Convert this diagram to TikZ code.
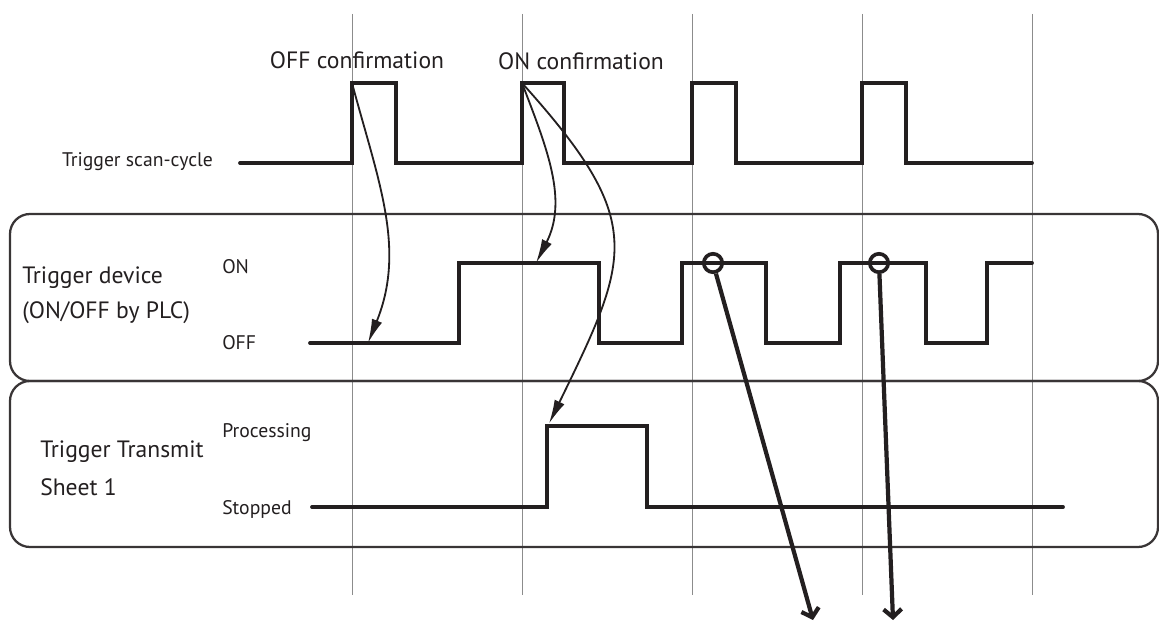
\documentclass[tikz,border=0pt]{standalone}
\usepackage{fontspec}
\setmainfont{PT Sans}
\usetikzlibrary{arrows.meta}
\definecolor{ink}{HTML}{231F20}
\definecolor{gridgray}{HTML}{8C8C8C}

\begin{document}
\begin{tikzpicture}[
	wave/.style={draw=ink,line width=2.7pt,line cap=round},
	frame/.style={draw=ink!90,line width=1.6pt,rounded corners=0.5cm},
	tick/.style={draw=gridgray,line width=0.7pt},
	confirm/.style={draw=ink,line width=1.3pt,-{Latex[length=0.6cm,width=0.27cm]}},
	pointer/.style={draw=ink,line width=3pt,-{Straight Barb[length=0.2cm,width=0.45cm]}},
	ring/.style={shape=circle,draw=ink,line width=2.6pt,minimum size=0.46cm,inner sep=0pt},
	big/.style={font=\fontsize{16.8}{19}\selectfont,text=ink,inner sep=0pt},
	small/.style={font=\fontsize{14}{16}\selectfont,text=ink,inner sep=0pt}
]
				\useasboundingbox (0,0) rectangle (28.975,15.55);
				
				% scan-cycle ticks
				\draw[tick] (8.8,15.2) -- (8.8,0.675);
				\draw[tick] (13.05,15.2) -- (13.05,0.675);
				\draw[tick] (17.3,15.2) -- (17.3,0.675);
				\draw[tick] (21.55,15.2) -- (21.55,0.675);
				\draw[tick] (25.8,15.2) -- (25.8,0.675);
				
				% the two rows
				\draw[frame] (0.25,6.025) rectangle (28.95,10.2);
				\draw[frame] (0.25,1.875) rectangle (28.95,6.025);
				
				\node[big] (offconf) at (8.925,14.05) {OFF confirmation};
				\node[big] (onconf) at (14.525,14.025) {ON confirmation};
				\node[small,anchor=east] (scan) at (5.33,11.5) {Trigger scan-cycle};
				
				\node[big,anchor=west] (dev) at (0.55,8.6) {Trigger device};
				\node[big,anchor=west] (plc) at (0.55,7.725) {(ON/OFF by PLC)};
				\node[small,anchor=west] (devon) at (5.55,8.875) {ON};
				\node[small,anchor=west] (devoff) at (5.55,6.975) {OFF};
				
				\node[big,anchor=west] (tts) at (1.0,4.25) {Trigger Transmit};
				\node[big,anchor=west] (sheet) at (1.0,3.375) {Sheet 1};
				\node[small,anchor=west] (proc) at (5.55,4.725) {Processing};
				\node[small,anchor=west] (stop) at (5.55,2.825) {Stopped};
				
				% scan cycle
				\draw[wave] (6,11.475) -- (8.8,11.475) -- (8.8,13.475) -- (9.9,13.475) -- (9.9,11.475)
					-- (13.05,11.475) -- (13.05,13.475) -- (14.1,13.475) -- (14.1,11.475)
					-- (17.3,11.475) -- (17.3,13.475) -- (18.4,13.475) -- (18.4,11.475)
					-- (21.55,11.475) -- (21.55,13.475) -- (22.65,13.475) -- (22.65,11.475) -- (25.8,11.475);
				
				% trigger device
				\draw[wave] (7.75,6.975) -- (11.475,6.975) -- (11.475,8.975) -- (14.975,8.975) -- (14.975,6.975)
					-- (17.05,6.975) -- (17.05,8.975) -- (19.15,8.975) -- (19.15,6.975)
					-- (21.0,6.975) -- (21.0,8.975) -- (23.15,8.975) -- (23.15,6.975)
					-- (24.675,6.975) -- (24.675,8.975) -- (25.8,8.975);
				
				% trigger transmit
				\draw[wave] (7.8,2.875) -- (13.675,2.875) -- (13.675,4.9) -- (16.175,4.9) -- (16.175,2.875) -- (26.575,2.875);
				
				\coordinate (offtop) at (8.8,13.475);
				\coordinate (offhit) at (9.2,6.975);
				\coordinate (ontop) at (13.05,13.475);
				\coordinate (onhit) at (13.4,8.975);
				\coordinate (prochit) at (13.725,4.96);
				
				\draw[confirm] (offtop) to[out=-75,in=68] (offhit);
				\draw[confirm] (ontop) to[out=-69,in=63] (onhit);
				\draw[confirm] (ontop) to[out=-48,in=64,looseness=1.4] (prochit);
				
				\node[ring] (hold1) at (17.825,8.975) {};
				\node[ring] (hold2) at (21.975,8.975) {};
				\coordinate (out1) at (20.325,0.05);
				\coordinate (out2) at (22.325,0.05);
				
				\draw[pointer] (hold1) -- (out1);
				\draw[pointer] (hold2) -- (out2);
			\end{tikzpicture}
\end{document}
